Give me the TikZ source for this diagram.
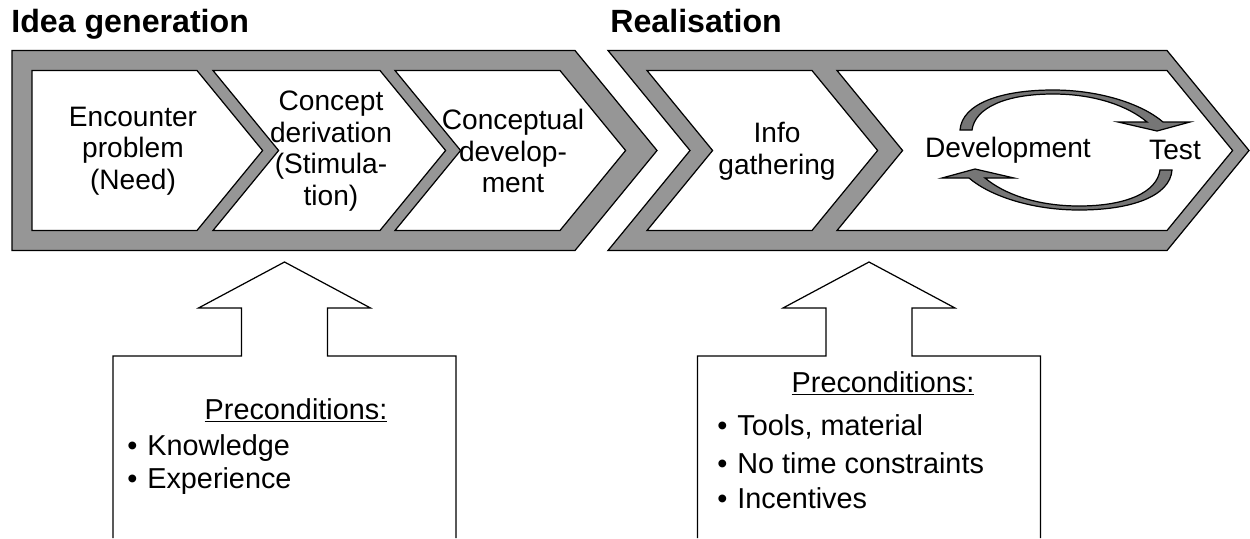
\documentclass[tikz,border=0pt]{standalone}
\usepackage{fontspec}
\setmainfont{Liberation Sans}
\usetikzlibrary{math}
\definecolor{chevgray}{RGB}{150,150,150}
\definecolor{cyclegray}{RGB}{118,118,118}

\begin{document}
\begin{tikzpicture}[x=0.02cm, y=-0.02cm,
      chev/.style={draw=black, line width=0.7pt, line join=miter},
      outerchev/.style={chev, fill=chevgray},
      innerchev/.style={chev, fill=white},
      cyclearrow/.style={chev, fill=cyclegray},
      upbox/.style={chev, fill=white},
      stagetext/.style={align=center, inner sep=0pt, font=\fontsize{16}{18}\selectfont},
      phasetitle/.style={anchor=base west, inner sep=0pt, font=\fontsize{18.3}{21}\selectfont\bfseries},
      prechead/.style={anchor=base, inner sep=0pt, font=\fontsize{16.4}{19}\selectfont},
      precitem/.style={anchor=base west, inner sep=0pt, font=\fontsize{16.4}{19}\selectfont}]
    \useasboundingbox (0,0) rectangle (1250,538);
    \tikzmath{
      \midY=150.5; % middle line of the chevrons
      \oH=100; \oD=0.82*\oH; % outer half height, point depth
      \stH=80; \stD=0.82*\stH; % stage half height, point depth
    }
    % phase titles
    \node[phasetitle] (ideaTitle) at (11,32) {Idea generation};
    \node[phasetitle] (realTitle) at (610,32) {Realisation};

    % outer grey chevrons
    \draw[outerchev] (12,\midY-\oH) -- (575,\midY-\oH) -- (575+\oD,\midY)
          -- (575,\midY+\oH) -- (12,\midY+\oH) -- cycle;
    \draw[outerchev] (608,\midY-\oH) -- (1167,\midY-\oH) -- (1167+\oD,\midY)
          -- (1167,\midY+\oH) -- (608,\midY+\oH) -- (608+\oD,\midY) -- cycle;

    % stage chevrons
    \draw[innerchev] (32,\midY-\stH) -- (197,\midY-\stH) -- (197+\stD,\midY)
          -- (197,\midY+\stH) -- (32,\midY+\stH) -- cycle;
    \foreach \l/\r in {213/380, 395/560, 647/812, 837/1167} {
        \draw[innerchev] (\l,\midY-\stH) -- (\r,\midY-\stH) -- (\r+\stD,\midY)
              -- (\r,\midY+\stH) -- (\l,\midY+\stH) -- (\l+\stD,\midY) -- cycle;
    }

    \node[stagetext] (encounter) at (133,151) {Encounter\\problem\\(Need)};
    \node[stagetext] (derivation) at (331,151) {Concept\\derivation\\(Stimula-\\tion)};
    \node[stagetext] (conceptual) at (513,151) {Conceptual\\develop-\\ment};
    \node[stagetext] (info) at (777,151) {Info\\gathering};

    % development / test cycle
    \foreach \a in {0,180} {
        \draw[cyclearrow, rotate around={\a:(1066,150)}]
          (960,130) .. controls (962,104) and (1000,90) .. (1053,90)
          .. controls (1100,90) and (1142,104) .. (1163,122)
          -- (1190,122) -- (1157,131) -- (1118,122) -- (1147,122)
          .. controls (1128,106) and (1095,94) .. (1053,94)
          .. controls (1005,94) and (975,108) .. (972,130) -- cycle;
    }
    \node[stagetext] (devel) at (1008,150) {Development};
    \node[stagetext] (test) at (1175,150) {Test};

    % precondition boxes with arrows
    \foreach \c in {284.5, 869} {
        \draw[upbox] (\c-171.5,538) -- (\c-171.5,356) -- (\c-43,356) -- (\c-43,308)
              -- (\c-86,308) -- (\c,262) -- (\c+86,308) -- (\c+43,308)
              -- (\c+43,356) -- (\c+171.5,356) -- (\c+171.5,538);
    }

    \node[prechead] (precA) at (296,419) {\underline{Preconditions:}};
    \foreach \t/\y [count=\i] in {Knowledge/455, Experience/488}
        \node[precitem] (precAitem\i) at (147,\y) {\llap{\textbullet\hspace{5.7pt}}\t};

    \node[prechead] (precB) at (883,392) {\underline{Preconditions:}};
    \foreach \t/\y [count=\i] in {{Tools, material}/435, {No time constraints}/473, Incentives/508}
        \node[precitem] (precBitem\i) at (737,\y) {\llap{\textbullet\hspace{5.7pt}}\t};
\end{tikzpicture}
\end{document}
